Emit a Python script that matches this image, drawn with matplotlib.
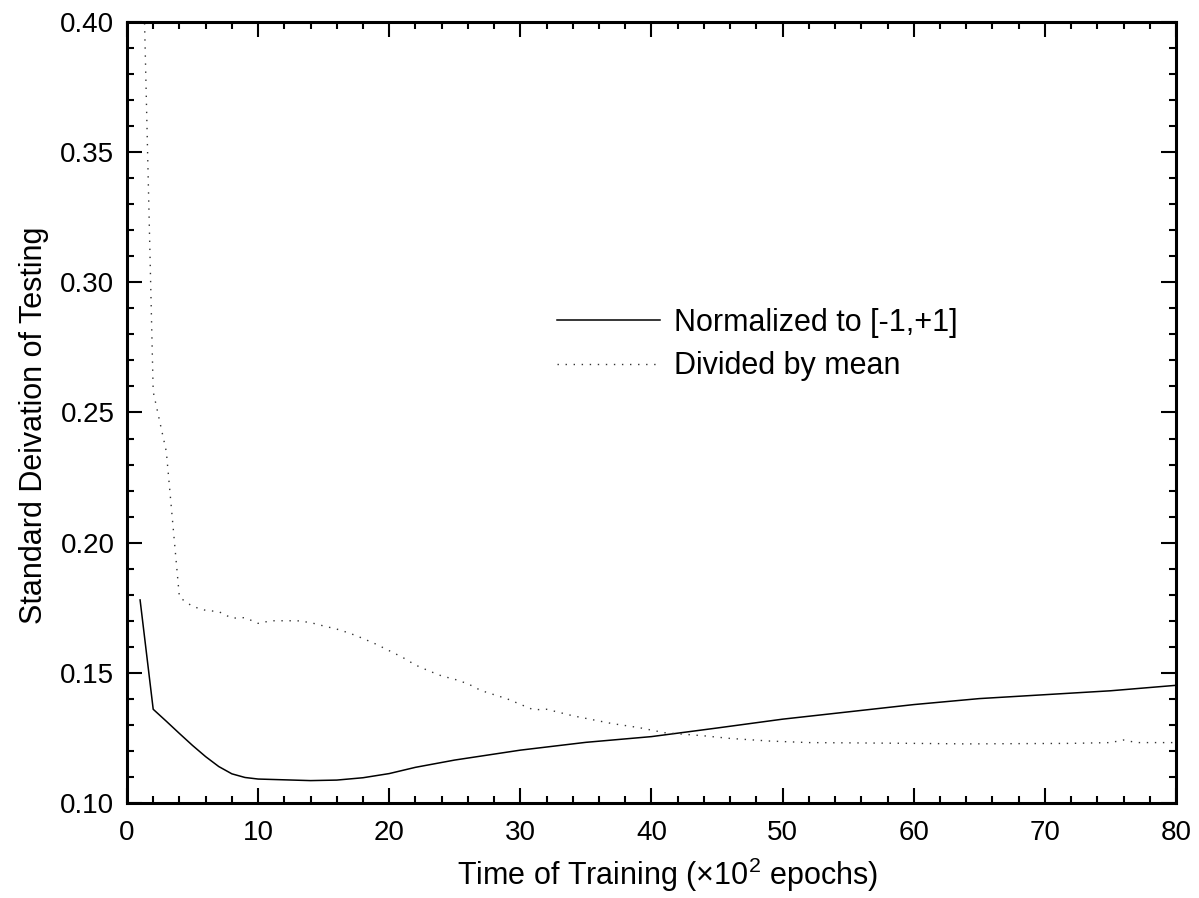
import numpy as np
import matplotlib
matplotlib.use("Agg")
import matplotlib.pyplot as plt
from matplotlib.ticker import MultipleLocator

plt.rcParams['font.family'] = ['Liberation Sans', 'DejaVu Sans']
plt.rcParams['mathtext.fontset'] = 'custom'
plt.rcParams['mathtext.rm'] = 'Liberation Sans'

# 正規化 [-1,+1]
x_norm = [1, 2, 3, 4, 5, 6, 7, 8, 9, 10, 12, 14, 16, 18, 20, 22, 25, 30,
          35, 40, 45, 50, 55, 60, 65, 70, 75, 80]
y_norm = [0.178, 0.136, 0.1314, 0.1267, 0.1221, 0.1178, 0.1140, 0.1112,
          0.1098, 0.1092, 0.1089, 0.1086, 0.1088, 0.1097, 0.1113, 0.1137,
          0.1165, 0.1203, 0.1233, 0.1255, 0.1288, 0.1322, 0.1350, 0.1378,
          0.1401, 0.1416, 0.1431, 0.1452]

# 平均で割ったもの
x_mean = [1, 2, 3, 4, 5, 6, 7, 8, 9, 10, 11, 13, 14, 15, 16, 17, 18, 19,
          20, 21, 22, 23, 24, 25, 26, 27, 29, 31, 32, 34, 37, 39, 41, 44,
          46, 49, 52, 55, 60, 64, 68, 72, 75, 76, 77, 80]
y_mean = [0.473, 0.258, 0.235, 0.179, 0.1755, 0.1740, 0.1735, 0.1710,
          0.1712, 0.1690, 0.1700, 0.1700, 0.1693, 0.1680, 0.1668, 0.1652,
          0.1632, 0.1610, 0.1585, 0.1560, 0.1530, 0.1508, 0.1488, 0.1475,
          0.1458, 0.1432, 0.1400, 0.1358, 0.1360, 0.1335, 0.1305, 0.1290,
          0.1270, 0.1258, 0.1248, 0.1238, 0.1232, 0.1231, 0.1229, 0.1227,
          0.1228, 0.1229, 0.1232, 0.1242, 0.1232, 0.1232]

fig = plt.figure(figsize=(11.99, 8.98), dpi=100)
ax = fig.add_axes([0.1059, 0.1058, 0.8749, 0.8697])

ax.plot(x_norm, y_norm, color='black', linewidth=1.1, label='Normalized to [-1,+1]')
ax.plot(x_mean, y_mean, color='#333333', linewidth=1.0, linestyle=(0, (1, 4.8)),
        label='Divided by mean')

ax.set_xlim(0, 80)
ax.set_ylim(0.10, 0.40)
ax.xaxis.set_major_locator(MultipleLocator(10))
ax.xaxis.set_minor_locator(MultipleLocator(2))
ax.yaxis.set_major_locator(MultipleLocator(0.05))
ax.yaxis.set_minor_locator(MultipleLocator(0.01))
ax.yaxis.set_major_formatter(plt.FormatStrFormatter('%.2f'))

ax.tick_params(which='both', direction='in', top=True, right=True,
               labelsize=20, width=1.5)
ax.tick_params(axis='x', which='both', pad=12)
ax.tick_params(axis='y', which='both', pad=9)
ax.tick_params(which='major', length=11)
ax.tick_params(which='minor', length=5)
for s in ax.spines.values():
    s.set_linewidth(2.2)

ax.set_xlabel(r'Time of Training ($\times$10$^{2}$ epochs)', fontsize=22, labelpad=7)
ax.set_ylabel('Standard Deivation of Testing', fontsize=22, labelpad=8)
ax.xaxis.label.set_x(0.515)
ax.yaxis.label.set_y(0.483)

ax.legend(loc='center left', bbox_to_anchor=(0.41, 0.587), frameon=False,
          fontsize=22, handlelength=3.37, handletextpad=0.46, labelspacing=0.45,
          borderpad=0, borderaxespad=0)

plt.savefig('out.png', dpi=100)
plt.close()
